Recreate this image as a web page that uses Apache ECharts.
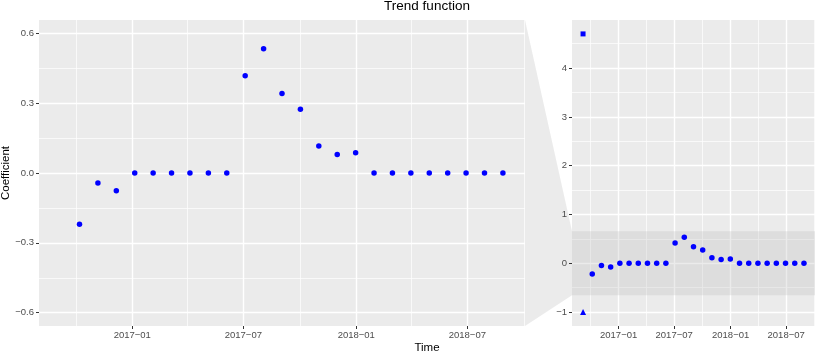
<!DOCTYPE html>
<html>
<head>
<meta charset="utf-8">
<script src="https://cdn.jsdelivr.net/npm/echarts@6/dist/echarts.min.js"></script>
<style>
  html, body { margin: 0; padding: 0; background: #fff; }
  #chart { width: 830px; height: 356px; }
</style>
</head>
<body>
<div id="chart"></div>
<script>
// data (30 day steps)
const dates = [
  '2016-09-07', '2016-10-07', '2016-11-06', '2016-12-06', '2017-01-05',
  '2017-02-04', '2017-03-06', '2017-04-05', '2017-05-05', '2017-06-04',
  '2017-07-04', '2017-08-03', '2017-09-02', '2017-10-02', '2017-11-01',
  '2017-12-01', '2017-12-31', '2018-01-30', '2018-03-01', '2018-03-31',
  '2018-04-30', '2018-05-30', '2018-06-29', '2018-07-29', '2018-08-28'
]
const trend = [
  null, -0.22, -0.043, -0.076, 0, 0, 0, 0, 0, 0,
  0.418, 0.534, 0.341, 0.274, 0.116, 0.079, 0.087,
  0, 0, 0, 0, 0, 0, 0, 0
]
const squareDates = ['2016-09-07']
const squareVals = [4.7]
const triangleDates = ['2016-09-07']
const triangleVals = [-1.0]

const xRange = ['2016-08-02', '2018-10-03']
const xMajor = ['2017-01-01', '2017-07-01', '2018-01-01', '2018-07-01']
const xMajorLabels = ['2017\u221201', '2017\u221207', '2018\u221201', '2018\u221207']
const xMinor = ['2016-10-01', '2017-04-01', '2017-10-01', '2018-04-01', '2018-10-01']

const zoomRange = [-0.657, 0.657]
const zoomTicks = [-0.6, -0.3, 0, 0.3, 0.6]
const zoomLabels = ['\u22120.6', '\u22120.3', '0.0', '0.3', '0.6']
const zoomMinor = [-0.45, -0.15, 0.15, 0.45]

const fullRange = [-1.285, 4.985]
const fullTicks = [-1, 0, 1, 2, 3, 4]
const fullLabels = ['\u22121', '0', '1', '2', '3', '4']
const fullMinor = [-0.5, 0.5, 1.5, 2.5, 3.5, 4.5]

const FONT = '"Liberation Sans", Arial, sans-serif'
const t = (d) => new Date(d + 'T00:00:00Z').getTime()

const pts = (ds, vs) => ds.map((d, i) => [t(d), vs[i]]).filter(p => p[1] != null)

const lookup = (vals, labels) => (v) => {
  const i = vals.findIndex(x => Math.abs(x - v) < 1e-6)
  return i >= 0 ? labels[i] : ''
}

const majorLine = { show: true, lineStyle: { color: '#ffffff', width: 1.4 } }
const minorLine = { show: true, lineStyle: { color: '#ffffff', width: 0.7 } }
const tickStyle = { show: true, length: 3, lineStyle: { color: '#333333', width: 1 } }
const labelStyle = { color: '#4d4d4d', fontSize: 9.5, fontFamily: FONT }
const noLine = { show: false, onZero: false }

const xMajorAxis = (gridIndex) => ({
  type: 'value', gridIndex, position: 'bottom', min: t(xRange[0]), max: t(xRange[1]),
  axisLine: noLine,
  axisTick: { ...tickStyle, customValues: xMajor.map(t) },
  axisLabel: {
    ...labelStyle, margin: 4, customValues: xMajor.map(t),
    formatter: lookup(xMajor.map(t), xMajorLabels)
  },
  splitLine: majorLine
})
const xMinorAxis = (gridIndex) => ({
  type: 'value', gridIndex, position: 'bottom', min: t(xRange[0]), max: t(xRange[1]),
  axisLine: noLine,
  axisTick: { show: false, customValues: xMinor.map(t) },
  axisLabel: { show: false, customValues: xMinor.map(t) },
  splitLine: minorLine
})
const yMajorAxis = (gridIndex, range, ticks, labels) => ({
  type: 'value', gridIndex, position: 'left', min: range[0], max: range[1],
  axisLine: noLine,
  axisTick: { ...tickStyle, customValues: ticks },
  axisLabel: { ...labelStyle, margin: 5, customValues: ticks, formatter: lookup(ticks, labels) },
  splitLine: majorLine
})
const yMinorAxis = (gridIndex, range, ticks) => ({
  type: 'value', gridIndex, position: 'left', min: range[0], max: range[1],
  axisLine: noLine,
  axisTick: { show: false, customValues: ticks },
  axisLabel: { show: false, customValues: ticks },
  splitLine: minorLine
})

const dot = { color: '#0000ff', opacity: 1 }

const chart = echarts.init(document.getElementById('chart'), null, { renderer: 'canvas' })

const option = {
  animation: false,
  textStyle: { fontFamily: FONT },
  grid: [
    {
      left: 39, top: 20, width: 486, height: 306, containLabel: false, outerBoundsMode: 'none',
      show: true, backgroundColor: '#ebebeb', borderWidth: 0
    },
    {
      left: 572, top: 20, width: 243, height: 306, containLabel: false, outerBoundsMode: 'none',
      show: true, backgroundColor: '#ebebeb', borderWidth: 0
    }
  ],
  xAxis: [
    xMinorAxis(0), xMinorAxis(1),
    xMajorAxis(0), xMajorAxis(1)
  ],
  yAxis: [
    yMinorAxis(0, zoomRange, zoomMinor), yMinorAxis(1, fullRange, fullMinor),
    yMajorAxis(0, zoomRange, zoomTicks, zoomLabels),
    yMajorAxis(1, fullRange, fullTicks, fullLabels)
  ],
  series: [
    {
      // zoom band on the full panel
      type: 'line', xAxisIndex: 3, yAxisIndex: 3, data: [], z: 1, silent: true,
      markArea: {
        silent: true,
        itemStyle: { color: 'rgba(190,190,190,0.3)' },
        data: [[{ yAxis: zoomRange[0] }, { yAxis: zoomRange[1] }]]
      }
    },
    {
      type: 'scatter', xAxisIndex: 2, yAxisIndex: 2, clip: true,
      symbol: 'circle', symbolSize: 5.5, itemStyle: dot,
      data: pts(dates, trend)
    },
    {
      type: 'scatter', xAxisIndex: 2, yAxisIndex: 2, clip: true,
      symbol: 'rect', symbolSize: 5, itemStyle: dot,
      data: pts(squareDates, squareVals)
    },
    {
      type: 'scatter', xAxisIndex: 2, yAxisIndex: 2, clip: true,
      symbol: 'triangle', symbolSize: 6, itemStyle: dot,
      data: pts(triangleDates, triangleVals)
    },
    {
      type: 'scatter', xAxisIndex: 3, yAxisIndex: 3, clip: true,
      symbol: 'circle', symbolSize: 5.5, itemStyle: dot,
      data: pts(dates, trend)
    },
    {
      type: 'scatter', xAxisIndex: 3, yAxisIndex: 3, clip: true,
      symbol: 'rect', symbolSize: 5, itemStyle: dot,
      data: pts(squareDates, squareVals)
    },
    {
      type: 'scatter', xAxisIndex: 3, yAxisIndex: 3, clip: true,
      symbol: 'triangle', symbolSize: 6, itemStyle: dot,
      data: pts(triangleDates, triangleVals)
    }
  ],
  graphic: [
    {
      id: 'title', type: 'text', x: 427, y: 6,
      style: { text: 'Trend function', fill: '#000', fontSize: 13.5, fontFamily: FONT, textAlign: 'center', textVerticalAlign: 'middle' }
    },
    {
      id: 'xname', type: 'text', x: 427, y: 348,
      style: { text: 'Time', fill: '#000', fontSize: 11.5, fontFamily: FONT, textAlign: 'center', textVerticalAlign: 'middle' }
    },
    {
      id: 'yname', type: 'text', x: 6, y: 173, rotation: Math.PI / 2,
      style: { text: 'Coefficient', fill: '#000', fontSize: 11.5, fontFamily: FONT, textAlign: 'center', textVerticalAlign: 'middle' }
    }
  ]
}

chart.setOption(option)

// link the zoomed panel to its band on the full panel
const a = chart.convertToPixel({ xAxisIndex: 2, yAxisIndex: 2 }, [t(xRange[1]), zoomRange[1]])
const b = chart.convertToPixel({ xAxisIndex: 2, yAxisIndex: 2 }, [t(xRange[1]), zoomRange[0]])
const c = chart.convertToPixel({ xAxisIndex: 3, yAxisIndex: 3 }, [t(xRange[0]), zoomRange[0]])
const d = chart.convertToPixel({ xAxisIndex: 3, yAxisIndex: 3 }, [t(xRange[0]), zoomRange[1]])
chart.setOption({
  graphic: [{
    id: 'link', type: 'polygon', silent: true, z: -1,
    shape: { points: [a, b, c, d] },
    style: { fill: 'rgba(190,190,190,0.3)' }
  }]
})
</script>
</body>
</html>
